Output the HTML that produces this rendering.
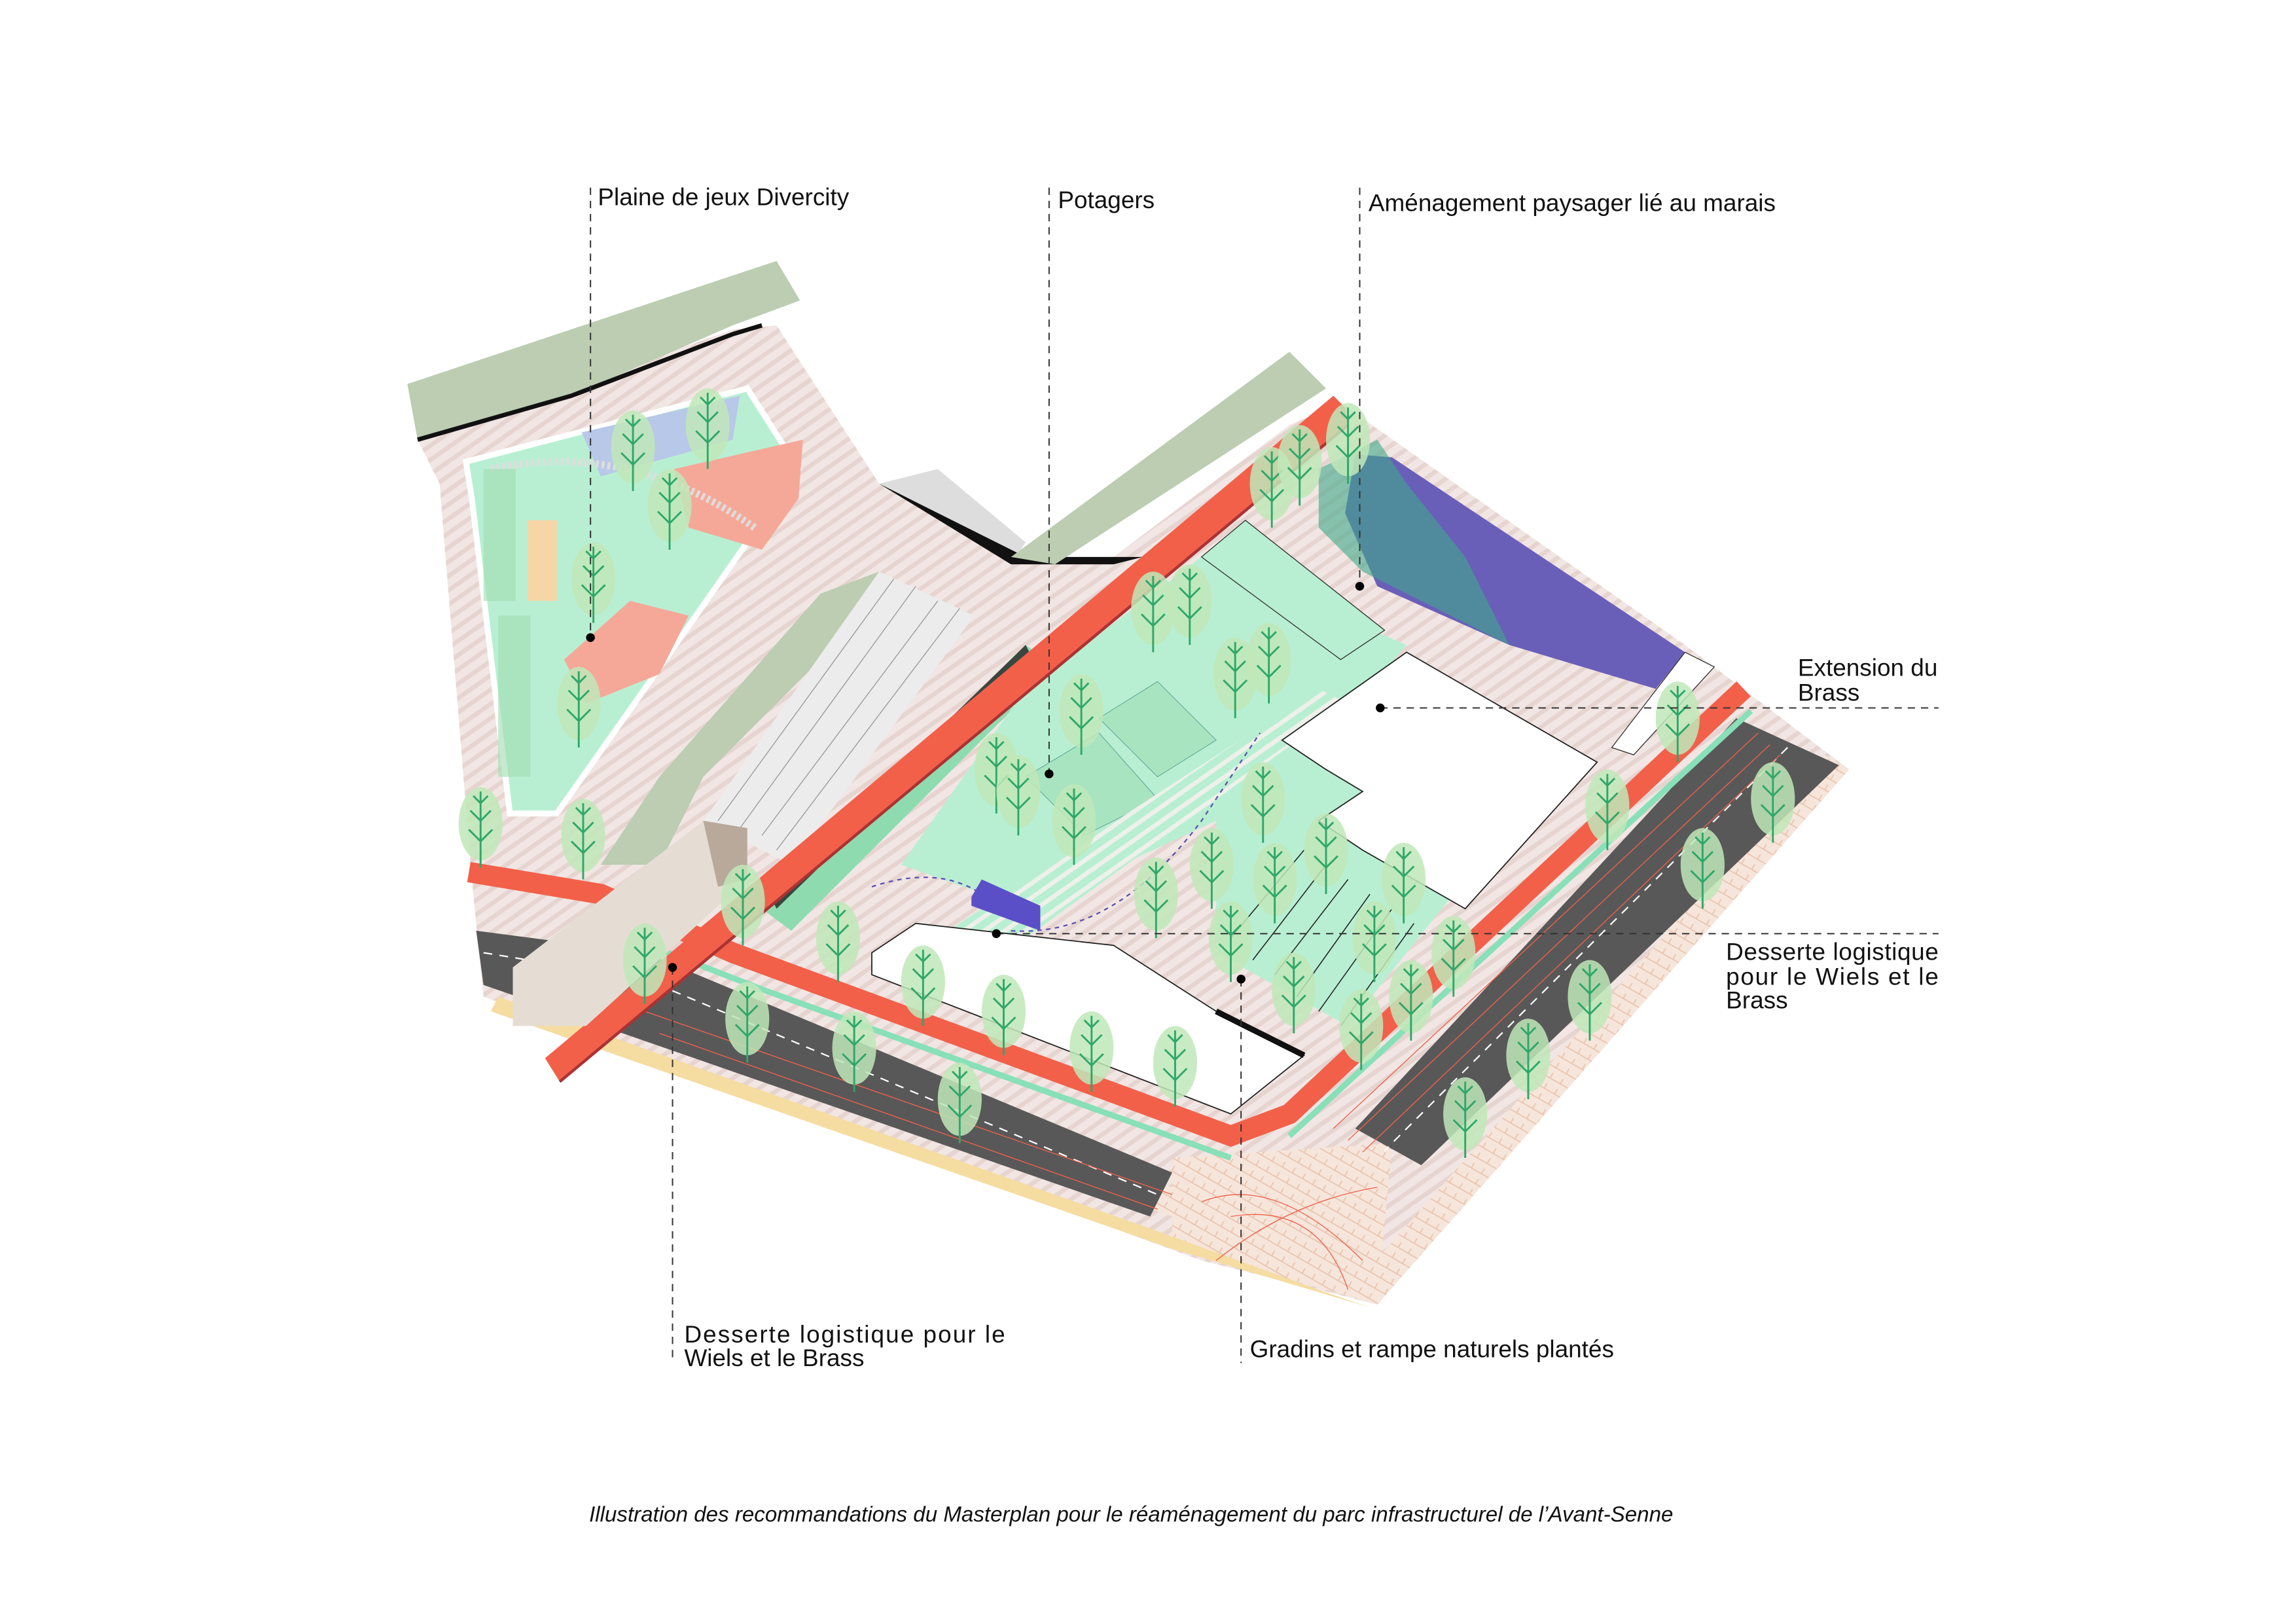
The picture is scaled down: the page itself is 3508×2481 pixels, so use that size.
<!DOCTYPE html>
<html><head><meta charset="utf-8"><style>html,body{margin:0;padding:0;background:#fff}svg{display:block}</style></head>
<body>
<svg width="3508" height="2481" viewBox="0 0 1567 1108" preserveAspectRatio="none" xmlns="http://www.w3.org/2000/svg">
<defs>
<pattern id="hatch" width="8" height="8" patternUnits="userSpaceOnUse" patternTransform="rotate(-35)">
<rect width="8" height="8" fill="#f1e6e3"/><rect width="8" height="3" fill="#e6d4d0"/></pattern>
<pattern id="brick" width="8" height="8" patternUnits="userSpaceOnUse" patternTransform="rotate(30)">
<rect width="8" height="8" fill="#f6e5da"/><path d="M0 4h8M4 0v4" stroke="#e9c4ae" stroke-width="0.8"/></pattern>
<pattern id="mintstripe" width="8" height="8" patternUnits="userSpaceOnUse" patternTransform="rotate(-35)">
<rect width="8" height="8" fill="#b8efd2"/><rect width="8" height="3" fill="#eef0ea"/></pattern>
<g id="t"><ellipse cx="0" cy="-30" rx="15" ry="25" fill="#bfe8b8" opacity="0.85"/><path d="M0 0V-52M0 -18l-8 -8M0 -18l8 -8M0 -32l-7 -7M0 -32l7 -7M0 -44l-5 -5M0 -44l5 -5" stroke="#2ea86a" stroke-width="1.3" fill="none"/></g>
</defs>
<rect width="1567" height="1108" fill="#fff"/>

<polygon points="285,300 500,225 530,222 600,330 690,380 760,380 880,290 915,275 1150,440 1262,525 940,890 820,860 330,680 322,600 300,330" fill="url(#hatch)"/>
<polygon points="330,660 800,830 940,890 1262,525 1245,515 930,870 800,810 330,640" fill="url(#brick)"/>
<polygon points="800,790 950,780 940,890 800,850" fill="url(#brick)"/>
<polygon points="340,680 790,840 900,880 935,892 800,852 335,690" fill="#f5dca0"/>

<polygon points="278,262 530,178 546,205 500,222 390,270 285,300" fill="#bccdb2"/>
<path d="M285,300 L390,270 L500,228 L520,222" stroke="#111" stroke-width="3" fill="none"/>
<polygon points="318,315 510,265 545,320 440,470 380,555 348,555 322,340" fill="#b8efd2" stroke="#fff" stroke-width="4"/>
<polygon points="397,295 505,270 500,300 410,325" fill="#b8c8e8"/>
<polygon points="460,320 548,300 545,340 520,375 470,360" fill="#f6a898"/>
<polygon points="385,450 430,410 470,420 450,460 400,480" fill="#f6a898"/>
<rect x="360" y="355" width="20" height="55" fill="#f6d6a6"/>
<path d="M335,320 Q430,300 515,360" stroke="#ddd" stroke-width="5" fill="none" stroke-dasharray="2 2"/>
<rect x="330" y="320" width="22" height="90" fill="#9fdcb0" opacity="0.6"/>
<rect x="340" y="420" width="22" height="110" fill="#9fdcb0" opacity="0.6"/>

<polygon points="410,590 450,530 560,405 600,390 590,420 480,530 450,590" fill="#bccdb2"/>
<polygon points="480,560 600,390 665,420 540,590" fill="#ececec"/>
<path d="M490,560L610,395M505,565L625,400M520,570L640,410M530,580L655,415" stroke="#999" stroke-width="0.6"/>
<polygon points="600,330 640,320 700,370 690,385" fill="#ddd"/>
<polygon points="600,330 700,380 780,380 760,385 690,385" fill="#111"/>
<polygon points="690,380 880,240 905,265 720,385" fill="#bccdb2"/>
<polygon points="520,620 700,440 720,455 540,635" fill="#8edbb0"/>
<polygon points="525,610 700,440 705,450 530,620" fill="#222" opacity="0.8"/>

<polygon points="615,590 700,470 820,380 960,440 900,510 830,560 700,620" fill="#b8efd2"/>
<polygon points="820,380 850,355 945,430 915,450" fill="#b8efd2" stroke="#333" stroke-width="0.6"/>
<polygon points="700,530 750,500 790,545 740,570" fill="#a8e4c0" stroke="#6a9" stroke-width="0.5"/>
<polygon points="750,490 790,465 830,505 790,530" fill="#a8e4c0" stroke="#6a9" stroke-width="0.5"/>
<polygon points="830,560 900,510 960,560 1000,600 920,700 830,650" fill="#b8efd2"/>
<g stroke="#222" stroke-width="0.7"><path d="M840,640L890,580M855,655L905,590M870,665L920,600M885,680L935,610M900,690L950,620M915,700L965,630"/></g>
<polygon points="640,640 700,600 900,470 920,480 700,640 680,650" fill="url(#mintstripe)"/>
<path d="M595,605 Q640,590 670,610 M690,635 Q760,640 820,560 L860,500" stroke="#5b4fb0" stroke-width="1" stroke-dasharray="3 3" fill="none"/>

<polygon points="925,310 950,312 1150,445 1130,470 1030,440 940,400 918,350" fill="#6a5fb8"/>
<polygon points="900,320 940,300 960,330 1000,380 1030,440 990,420 930,390 900,360" fill="#3fa98a" opacity="0.6"/>
<polygon points="1150,445 1170,455 1115,515 1100,510" fill="#fff" stroke="#333" stroke-width="0.6"/>

<polygon points="875,505 960,445 1090,520 1000,620 930,580 900,560 930,540 905,525" fill="#fff" stroke="#222" stroke-width="0.8"/>
<polygon points="595,650 625,630 760,645 830,690 890,720 840,760 595,665" fill="#fff" stroke="#222" stroke-width="0.8"/>
<path d="M830,690 L890,720" stroke="#111" stroke-width="4"/>

<polygon points="325,635 440,650 800,800 785,830 330,672" fill="#585858"/>
<path d="M330,650 L440,668 L790,815" stroke="#fff" stroke-width="1" stroke-dasharray="6 5" fill="none"/>
<polygon points="1185,490 1255,522 970,795 925,770" fill="#585858"/>
<path d="M1220,510 L945,785" stroke="#fff" stroke-width="1" stroke-dasharray="6 5"/>

<path d="M320,595 L410,610 L500,650 L840,775 L880,760 L1190,470" stroke="#f2604a" stroke-width="14" fill="none"/>
<path d="M430,640 L520,675 L840,790" stroke="#88e0b8" stroke-width="4" fill="none"/>
<path d="M880,775 L1195,485" stroke="#88e0b8" stroke-width="4" fill="none"/>
<path d="M440,690 L800,815 M450,705 L790,825" stroke="#f2604a" stroke-width="0.6" fill="none"/>
<path d="M910,770 L1200,500 M920,778 L1208,508 M930,786 L1215,515" stroke="#f2604a" stroke-width="0.6" fill="none"/>
<path d="M820,820 Q870,800 930,860 M840,830 Q900,820 920,880 M830,860 Q880,820 940,810" stroke="#f2604a" stroke-width="0.6" fill="none"/>

<polygon points="372,722 910,270 918,278 920,290 382,738" fill="#f2604a"/>
<path d="M382,738 L920,290" stroke="#a33" stroke-width="2"/>
<polygon points="350,660 480,560 510,565 510,600 400,700 350,700" fill="#e5ddd3"/>
<polygon points="480,560 510,565 510,600 490,605" fill="#b8a99a"/>

<polygon points="663,612 670,600 710,618 710,635 663,618" fill="#5b4fc8"/>

<g>
<use href="#t" x="328" y="592"/><use href="#t" x="398" y="600"/><use href="#t" x="395" y="510"/><use href="#t" x="405" y="425"/><use href="#t" x="432" y="335"/><use href="#t" x="483" y="320"/><use href="#t" x="457" y="375"/>
<use href="#t" x="507" y="645"/><use href="#t" x="440" y="685"/><use href="#t" x="510" y="725"/><use href="#t" x="572" y="670"/><use href="#t" x="630" y="700"/><use href="#t" x="685" y="720"/><use href="#t" x="745" y="745"/><use href="#t" x="802" y="755"/><use href="#t" x="655" y="780"/><use href="#t" x="583" y="745"/>
<use href="#t" x="787" y="445"/><use href="#t" x="812" y="440"/><use href="#t" x="843" y="490"/><use href="#t" x="866" y="480"/><use href="#t" x="868" y="360"/><use href="#t" x="887" y="345"/><use href="#t" x="920" y="330"/>
<use href="#t" x="738" y="515"/><use href="#t" x="680" y="555"/><use href="#t" x="695" y="570"/><use href="#t" x="733" y="590"/><use href="#t" x="862" y="575"/><use href="#t" x="827" y="620"/><use href="#t" x="905" y="610"/><use href="#t" x="958" y="630"/><use href="#t" x="938" y="670"/><use href="#t" x="883" y="705"/><use href="#t" x="929" y="730"/><use href="#t" x="963" y="710"/><use href="#t" x="992" y="680"/>
<use href="#t" x="1000" y="790"/><use href="#t" x="1043" y="750"/><use href="#t" x="1085" y="710"/><use href="#t" x="1162" y="620"/><use href="#t" x="1210" y="575"/><use href="#t" x="1097" y="580"/><use href="#t" x="1145" y="520"/><use href="#t" x="789" y="640"/><use href="#t" x="870" y="630"/><use href="#t" x="840" y="670"/>
</g>

<g stroke="#333" stroke-width="0.9" stroke-dasharray="5 4" fill="none">
<path d="M403,128V435"/><path d="M716,128V528"/><path d="M928,128V400"/>
<path d="M942,483H1323"/><path d="M680,637H1323"/><path d="M459,660V930"/><path d="M847,668V930"/>
</g>
<g fill="#000"><circle cx="403" cy="435" r="3"/><circle cx="716" cy="528" r="3"/><circle cx="928" cy="400" r="3"/><circle cx="942" cy="483" r="3"/><circle cx="680" cy="637" r="3"/><circle cx="459" cy="660" r="3"/><circle cx="847" cy="668" r="3"/></g>

<g font-family="Liberation Sans, sans-serif" font-size="16.5" fill="#111">
<text x="408" y="140">Plaine de jeux Divercity</text>
<text x="722" y="142">Potagers</text>
<text x="934" y="144">Aménagement paysager lié au marais</text>
<text x="1227" y="461">Extension du</text>
<text x="1227" y="478">Brass</text>
<text x="1178" y="655" textLength="145" lengthAdjust="spacing">Desserte logistique</text>
<text x="1178" y="672" textLength="145" lengthAdjust="spacing">pour le Wiels et le</text>
<text x="1178" y="688">Brass</text>
<text x="467" y="916" textLength="219" lengthAdjust="spacing">Desserte logistique pour le</text>
<text x="467" y="932">Wiels et le Brass</text>
<text x="853" y="926">Gradins et rampe naturels plantés</text>
<text x="772" y="1038" font-size="14.8" font-style="italic" text-anchor="middle">Illustration des recommandations du Masterplan pour le réaménagement du parc infrastructurel de l’Avant-Senne</text>
</g>
</svg>
</body></html>
